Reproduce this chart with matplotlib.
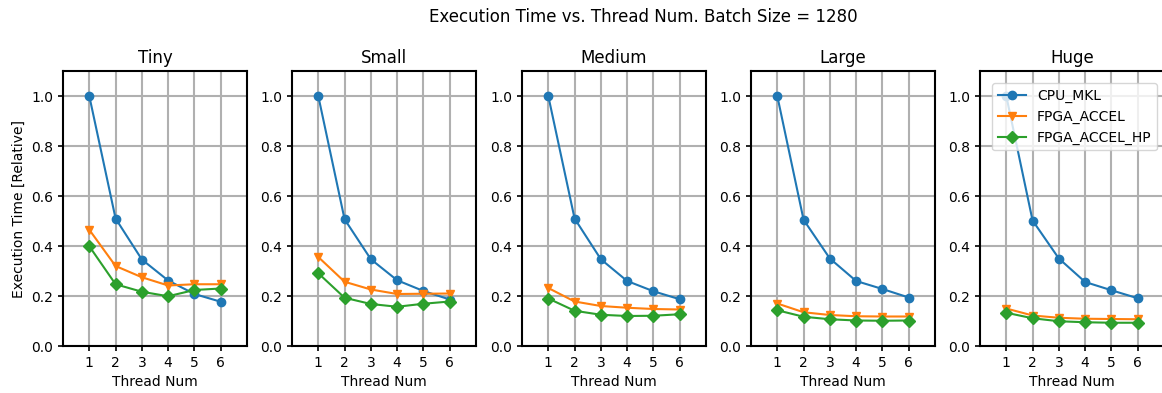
import matplotlib
matplotlib.use("Agg")
import matplotlib.pyplot as plt

threads = [1, 2, 3, 4, 5, 6]
sizes = ["Tiny", "Small", "Medium", "Large", "Huge"]
series_names = ["CPU_MKL", "FPGA_ACCEL", "FPGA_ACCEL_HP"]

cpu_mkl = {
    "Tiny":   [1.0, 0.51, 0.346, 0.262, 0.208, 0.177],
    "Small":  [1.0, 0.507, 0.347, 0.263, 0.220, 0.186],
    "Medium": [1.0, 0.510, 0.347, 0.260, 0.219, 0.187],
    "Large":  [1.0, 0.505, 0.350, 0.260, 0.228, 0.194],
    "Huge":   [1.0, 0.502, 0.350, 0.256, 0.223, 0.191],
}
fpga_accel = {
    "Tiny":   [0.465, 0.320, 0.275, 0.242, 0.247, 0.247],
    "Small":  [0.356, 0.257, 0.226, 0.208, 0.209, 0.210],
    "Medium": [0.232, 0.178, 0.160, 0.153, 0.148, 0.146],
    "Large":  [0.170, 0.135, 0.124, 0.119, 0.118, 0.118],
    "Huge":   [0.150, 0.122, 0.113, 0.109, 0.108, 0.107],
}
fpga_accel_hp = {
    "Tiny":   [0.399, 0.247, 0.217, 0.199, 0.224, 0.230],
    "Small":  [0.291, 0.193, 0.168, 0.157, 0.169, 0.178],
    "Medium": [0.190, 0.141, 0.125, 0.120, 0.121, 0.127],
    "Large":  [0.143, 0.117, 0.107, 0.102, 0.101, 0.102],
    "Huge":   [0.133, 0.111, 0.099, 0.095, 0.093, 0.093],
}

colors = ["#1f77b4", "#ff7f0e", "#2ca02c"]
markers = ["o", "v", "D"]

W, H = 1162, 393
fig = plt.figure(figsize=(W / 100, H / 100), dpi=100)

lefts = [63, 292, 522, 751, 980]
ax_w, ax_bottom, ax_h = 184, 47, 275

for i, size in enumerate(sizes):
    ax = fig.add_axes([lefts[i] / W, ax_bottom / H, ax_w / W, ax_h / H])
    for name, data, c, m in zip(series_names,
                                [cpu_mkl, fpga_accel, fpga_accel_hp],
                                colors, markers):
        ax.plot(threads, data[size], color=c, marker=m, label=name,
                linewidth=1.5, markersize=6, zorder=3)
    ax.set_xlim(0, 7)
    ax.set_ylim(0, 1.1)
    ax.set_xticks(threads)
    ax.set_yticks([0.0, 0.2, 0.4, 0.6, 0.8, 1.0])
    ax.grid(True, color="#b0b0b0", linewidth=1.5)
    ax.set_axisbelow(True)
    for sp in ax.spines.values():
        sp.set_linewidth(1.5)
    ax.tick_params(width=1.2, labelsize=10)
    ax.set_title(size, fontsize=12)
    ax.set_xlabel("Thread Num", fontsize=10)
    if i == 0:
        ax.set_ylabel("Execution Time [Relative]", fontsize=10)
    if i == len(sizes) - 1:
        ax.legend(loc="upper right", bbox_to_anchor=(1.0, 1 - 5 / ax_h),
                  fontsize=10)

fig.text(643 / W, 1 - 17 / H, "Execution Time vs. Thread Num. Batch Size = 1280",
         ha="center", va="center", fontsize=12)

fig.savefig("out.png", dpi=100)
